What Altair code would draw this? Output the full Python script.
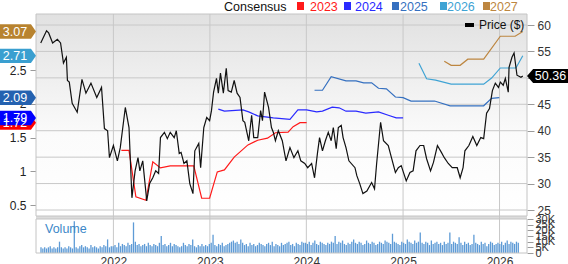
import altair as alt
import pandas as pd

# ---------------- data ----------------
# price line: (decimal year, price in $)
price_year = [2021.247, 2021.308, 2021.329, 2021.369, 2021.420, 2021.451, 2021.481, 2021.512, 2021.522, 2021.542,
              2021.573, 2021.624, 2021.674, 2021.715, 2021.766, 2021.827, 2021.878, 2021.908, 2021.939, 2021.959,
              2022.000, 2022.041, 2022.071, 2022.122, 2022.163, 2022.193, 2022.224, 2022.254, 2022.275, 2022.305,
              2022.336, 2022.346, 2022.376, 2022.407, 2022.437, 2022.468, 2022.488, 2022.529, 2022.560, 2022.590,
              2022.631, 2022.651, 2022.682, 2022.702, 2022.732, 2022.763, 2022.793, 2022.824, 2022.844, 2022.885,
              2022.905, 2022.936, 2022.966, 2022.997, 2023.017, 2023.038, 2023.068, 2023.088, 2023.109, 2023.139,
              2023.170, 2023.190, 2023.221, 2023.251, 2023.282, 2023.312, 2023.343, 2023.363, 2023.404, 2023.434,
              2023.455, 2023.495, 2023.526, 2023.546, 2023.567, 2023.607, 2023.638, 2023.658, 2023.679, 2023.709,
              2023.750, 2023.790, 2023.831, 2023.872, 2023.913, 2023.943, 2023.984, 2024.014, 2024.055, 2024.085,
              2024.116, 2024.136, 2024.167, 2024.197, 2024.228, 2024.258, 2024.279, 2024.309, 2024.330, 2024.360,
              2024.380, 2024.411, 2024.441, 2024.503, 2024.523, 2024.553, 2024.584, 2024.625, 2024.675, 2024.706,
              2024.726, 2024.767, 2024.798, 2024.848, 2024.879, 2024.920, 2024.950, 2024.981, 2025.032, 2025.072,
              2025.103, 2025.133, 2025.174, 2025.215, 2025.245, 2025.286, 2025.316, 2025.357, 2025.398, 2025.428,
              2025.469, 2025.510, 2025.561, 2025.591, 2025.622, 2025.642, 2025.683, 2025.723, 2025.764, 2025.805,
              2025.835, 2025.866, 2025.896, 2025.927, 2025.957, 2025.988, 2026.008, 2026.039, 2026.059, 2026.090,
              2026.100, 2026.130, 2026.151, 2026.181, 2026.222, 2026.242]
price_usd = [56.6, 58.9, 58.5, 56.6, 57.3, 56.6, 52.8, 53.9, 49.5, 49.2,
             45.2, 43.5, 49.7, 47.1, 49.0, 46.3, 48.2, 40.4, 40.0, 34.9,
             37.2, 34.3, 36.8, 44.4, 40.6, 27.3, 32.4, 34.9, 32.4, 34.3,
             28.3, 26.7, 30.0, 31.1, 32.4, 31.9, 38.7, 39.7, 38.5, 39.7,
             38.7, 40.0, 35.7, 35.9, 33.8, 34.3, 30.0, 28.1, 36.2, 37.6,
             33.0, 40.6, 42.5, 41.9, 43.8, 47.3, 49.9, 47.1, 50.9, 47.1,
             51.8, 47.6, 47.3, 49.5, 47.1, 46.3, 41.9, 41.6, 38.1, 42.9,
             38.7, 38.7, 43.8, 41.9, 47.3, 44.4, 40.6, 39.7, 38.1, 40.0,
             38.1, 34.3, 36.8, 34.9, 36.2, 34.3, 33.8, 33.0, 33.8, 31.1,
             35.7, 38.7, 36.2, 38.1, 39.7, 38.1, 40.6, 36.6, 40.6, 41.0,
             38.7, 36.8, 34.3, 33.0, 31.5, 30.0, 28.1, 28.6, 30.2, 29.0,
             33.8, 41.6, 38.1, 37.2, 34.9, 32.1, 33.0, 33.4, 30.5, 32.1,
             32.4, 36.2, 37.2, 37.2, 34.7, 32.4, 34.0, 37.2, 35.9, 34.9,
             33.8, 33.0, 33.0, 31.1, 33.0, 36.2, 37.2, 38.9, 37.2, 38.7,
             38.5, 43.3, 44.2, 47.6, 49.0, 48.2, 49.2, 48.6, 49.9, 47.3,
             52.0, 53.9, 54.7, 50.5, 50.1, 50.36]

# consensus EPS estimates per fiscal year: (decimal year, EPS)
eps2023_year = [2022.081, 2022.163, 2022.234, 2022.336, 2022.407, 2022.488, 2022.590, 2022.834, 2022.916, 2022.997,
                2023.078, 2023.150, 2023.251, 2023.394, 2023.495, 2023.597, 2023.679, 2023.811, 2023.862, 2023.933,
                2024.004]
eps2023 = [1.31, 1.31, 0.62, 0.57, 1.14, 1.05, 1.08, 1.08, 0.60, 0.60,
           0.99, 1.02, 1.21, 1.39, 1.46, 1.49, 1.57, 1.58, 1.66, 1.72, 1.72]
eps2024_year = [2023.088, 2023.150, 2023.343, 2023.404, 2023.495, 2023.658, 2023.831, 2023.913, 2024.004, 2024.106,
                2024.167, 2024.269, 2024.340, 2024.411, 2024.513, 2024.614, 2024.747, 2024.848, 2024.930, 2025.001]
eps2024 = [1.92, 1.89, 1.91, 1.88, 1.82, 1.79, 1.77, 1.91, 1.91, 1.88,
           1.89, 1.95, 1.94, 1.89, 1.89, 1.86, 1.88, 1.83, 1.79, 1.79]
eps2025_year = [2024.085, 2024.167, 2024.258, 2024.411, 2024.513, 2024.594, 2024.675, 2024.747, 2024.828, 2024.920,
                2025.001, 2025.082, 2025.327, 2025.489, 2025.835, 2025.917, 2025.998]
eps2025 = [2.20, 2.20, 2.40, 2.34, 2.34, 2.31, 2.31, 2.23, 2.22, 2.10,
           2.09, 2.04, 2.04, 1.97, 1.97, 2.08, 2.09]
eps2026_year = [2025.164, 2025.245, 2025.337, 2025.500, 2025.835, 2025.917, 2026.008, 2026.171, 2026.242]
eps2026 = [2.60, 2.37, 2.35, 2.29, 2.29, 2.38, 2.53, 2.53, 2.71]
eps2027_year = [2025.428, 2025.500, 2025.591, 2025.672, 2025.835, 2026.008, 2026.161, 2026.242]
eps2027 = [2.63, 2.57, 2.57, 2.66, 2.66, 3.00, 3.00, 3.07]

# weekly volume (thousands), first week 2021-04-02
volume_k = [5, 4, 5, 4, 5, 6, 4, 5, 4, 5, 10, 5, 4, 5, 4, 6, 5, 4, 28, 5,
            4, 6, 7, 5, 6, 5, 4, 7, 5, 6, 5, 4, 6, 5, 7, 6, 12, 5, 6,
            6, 7, 5, 9, 6, 8, 7, 6, 9, 7, 8, 27, 10, 7, 8, 6, 7, 8, 6, 9,
            7, 6, 8, 7, 6, 9, 15, 7, 8, 6, 7, 9, 6, 8, 7, 6, 5, 6, 9, 7,
            6, 8, 7, 12, 6, 5, 7, 6, 8, 6, 7, 6,
            8, 9, 16, 7, 6, 8, 7, 9, 6, 7, 8, 9, 10, 11, 9, 10, 8, 12, 9, 7,
            8, 6, 9, 7, 8, 6, 7, 9, 8, 7, 6, 8, 9, 7, 10, 6, 8, 7, 6, 9,
            7, 8, 9, 10, 7, 8, 6, 9, 8, 7, 10, 9,
            9, 8, 10, 7, 9, 11, 8, 7, 10, 9, 8, 7, 9, 8, 10, 9, 15, 8, 10, 9,
            11, 8, 7, 9, 8, 10, 12, 9, 8, 10, 9, 7, 8, 11, 9, 8, 10, 9, 7, 8,
            10, 9, 8, 11, 10, 9, 8, 17, 10, 9, 8, 7,
            10, 9, 8, 12, 10, 9, 8, 11, 9, 10, 18, 9, 8, 10, 9, 7, 11, 8, 9, 10,
            8, 9, 7, 10, 8, 9, 18, 8, 10, 9, 8, 14, 9, 7, 10, 8, 9, 7, 8, 16,
            9, 8, 7, 10, 8, 9, 6, 8, 10, 9, 7, 8,
            9, 8, 10, 7, 9, 11, 8, 10, 9, 8, 10, 9]

series_names = ["2023", "2024", "2025", "2026", "2027"]
series_colors = ["#ff1a1a", "#2a2aff", "#3570c0", "#3fa3d4", "#bd8640"]
badge_labels = ["1.72", "1.79", "2.09", "2.71", "3.07"]
badge_values = [1.72, 1.79, 2.09, 2.71, 3.07]
badge_colors = ["#ff0000", "#0000ff", "#2462b0", "#3a9fd0", "#b8832f"]
last_price = 50.36
eps_ticks = [0.5, 1, 1.5, 2, 2.5]
price_ticks = [25, 30, 35, 40, 45, 50, 55, 60]
volume_ticks = [0, 5, 10, 15, 20, 25, 30]
year_labels = [2022, 2023, 2024, 2025, 2026]

FONT = "Liberation Sans"
W, H = 491, 239
MAIN_H = 202
VOL_TOP = 205


def to_date(t):
    y = int(t)
    start = pd.Timestamp(year=y, month=1, day=1)
    ndays = (pd.Timestamp(year=y + 1, month=1, day=1) - start).days
    return start + pd.Timedelta(days=round((t - y) * ndays))


price_df = pd.DataFrame({"date": [to_date(t) for t in price_year], "price": price_usd})
eps_rows = []
for name, ys, vs in zip(series_names,
                        [eps2023_year, eps2024_year, eps2025_year, eps2026_year, eps2027_year],
                        [eps2023, eps2024, eps2025, eps2026, eps2027]):
    for t, v in zip(ys, vs):
        eps_rows.append({"date": to_date(t), "eps": v, "series": name})
eps_df = pd.DataFrame(eps_rows)
vol_df = pd.DataFrame({"date": pd.date_range("2021-04-02", periods=len(volume_k), freq="7D"),
                       "vol": volume_k})
year_df = pd.DataFrame({"date": [pd.Timestamp(year=y, month=1, day=1) for y in year_labels]})
price_tick_df = pd.DataFrame({"v": price_ticks})
badge_df = pd.DataFrame({"v": badge_values, "lab": badge_labels, "c": badge_colors})
last_df = pd.DataFrame({"v": [last_price], "lab": [f"{last_price:.2f}"]})
one = pd.DataFrame({"a": [0]})

x_scale = alt.Scale(domain=[alt.DateTime(year=2021, month=4, date=2),
                            alt.DateTime(year=2026, month=3, date=27)])
price_scale = alt.Scale(domain=[25, 60], range=[196, 11], zero=False, nice=False)
eps_scale = alt.Scale(domain=[0.5, 2.5], range=[191, 56], zero=False, nice=False)
vol_scale = alt.Scale(domain=[0, 30], range=[H, VOL_TOP], nice=False)

# background of the main panel
bg = alt.Chart(one).mark_rect(
    fill=alt.Gradient(gradient="linear",
                      stops=[alt.GradientStop(color="#e1e1e1", offset=0),
                             alt.GradientStop(color="#fbfbfb", offset=0.6),
                             alt.GradientStop(color="#ffffff", offset=1)],
                      x1=0, x2=0, y1=0, y2=1)
).encode(x=alt.value(0), x2=alt.value(W), y=alt.value(0), y2=alt.value(MAIN_H))

sep = alt.Chart(one).mark_rect(color="#dcdcdc").encode(
    x=alt.value(0), x2=alt.value(W), y=alt.value(MAIN_H), y2=alt.value(VOL_TOP))

hgrid = alt.Chart(price_tick_df).mark_rule(color="#c8c8c8", strokeWidth=1).encode(
    y=alt.Y("v:Q", scale=price_scale,
            axis=alt.Axis(orient="right", values=price_ticks, title=None, grid=False, domain=False,
                          tickSize=7, tickColor="#9a9a9a", labelPadding=3, labelFontSize=12,
                          labelFont=FONT, labelColor="#333333", labelBaseline="middle")),
    x=alt.value(0), x2=alt.value(W))

vgrid = alt.Chart(year_df).mark_rule(color="#c8c8c8", strokeWidth=1).encode(
    x=alt.X("date:T", scale=x_scale,
            axis=alt.Axis(values=[alt.DateTime(year=y, month=1, date=1) for y in year_labels],
                          format="%Y", title=None, grid=False, domain=False, ticks=False,
                          labelPadding=3, labelFontSize=12, labelFont=FONT, labelColor="#333333")),
    y=alt.value(0), y2=alt.value(H))

vol = alt.Chart(vol_df).mark_bar(width=1.3, color="#5e9bd6").encode(
    x=alt.X("date:T", scale=x_scale, axis=None),
    y=alt.Y("vol:Q", scale=vol_scale,
            axis=alt.Axis(orient="right", values=volume_ticks, title=None, grid=False, domain=False,
                          tickSize=6, tickColor="#9a9a9a", labelPadding=2, labelFontSize=11,
                          labelFont=FONT, labelColor="#333333", labelOverlap=False,
                          labelBaseline="middle",
                          labelExpr="datum.value == 0 ? '0' : datum.value + 'K'")))

vol_label = alt.Chart(one).mark_text(text="Volume", color="#3b87c8", fontSize=12.5, font=FONT,
                                     align="left", baseline="alphabetic").encode(
    x=alt.value(9), y=alt.value(219))

eps_lines = alt.Chart(eps_df).mark_line(strokeWidth=1.2).encode(
    x=alt.X("date:T", scale=x_scale, axis=None),
    y=alt.Y("eps:Q", scale=eps_scale,
            axis=alt.Axis(orient="left", values=eps_ticks, title=None, grid=False, domain=False,
                          format="~g", tickSize=6, tickColor="#9a9a9a", labelPadding=4,
                          labelFontSize=12, labelFont=FONT, labelColor="#222222",
                          labelBaseline="middle")),
    color=alt.Color("series:N", scale=alt.Scale(domain=series_names, range=series_colors), legend=None),
    detail="series:N")

price_line = alt.Chart(price_df).mark_line(color="#111111", strokeWidth=1.2).encode(
    x=alt.X("date:T", scale=x_scale, axis=None),
    y=alt.Y("price:Q", scale=price_scale, axis=None))

# borders
border = alt.Chart(one).mark_rect(fill="transparent", stroke="#c4c4c4", strokeWidth=1).encode(
    x=alt.value(0), x2=alt.value(W), y=alt.value(0), y2=alt.value(MAIN_H))
vol_border = alt.Chart(one).mark_rect(fill="transparent", stroke="#c4c4c4", strokeWidth=1).encode(
    x=alt.value(0), x2=alt.value(W), y=alt.value(VOL_TOP), y2=alt.value(H))

# left badges (consensus current values)
badge_shape = "M-1,-0.4 L0.72,-0.4 L1,0 L0.72,0.4 L-1,0.4 Z"
badges = alt.Chart(badge_df).mark_point(shape=badge_shape, filled=True, size=1296, opacity=1,
                                         strokeWidth=0).encode(
    x=alt.value(-18),
    y=alt.Y("v:Q", scale=eps_scale, axis=None),
    color=alt.Color("c:N", scale=None),
    order=alt.Order("v:Q", sort="ascending"))
badge_text = alt.Chart(badge_df).mark_text(color="white", fontSize=12.5, font=FONT, align="center",
                                           baseline="middle").encode(
    x=alt.value(-21),
    y=alt.Y("v:Q", scale=eps_scale, axis=None),
    text="lab:N")

# right price badge
last_shape = "M-1,0 L-0.7,-0.34 L1,-0.34 L1,0.34 L-0.7,0.34 Z"
last_badge = alt.Chart(last_df).mark_point(shape=last_shape, filled=True, size=1681, opacity=1,
                                            color="#000000", strokeWidth=0).encode(
    x=alt.value(511.5), y=alt.Y("v:Q", scale=price_scale, axis=None))
last_text = alt.Chart(last_df).mark_text(color="white", fontSize=12.5, font=FONT, align="center",
                                         baseline="middle").encode(
    x=alt.value(514.5), y=alt.Y("v:Q", scale=price_scale, axis=None), text="lab:N")

# top legend
legend_layers = [
    alt.Chart(one).mark_text(text="Consensus", color="#111111", fontSize=12.5, font=FONT,
                             align="left", baseline="alphabetic").encode(x=alt.value(188), y=alt.value(-3))
]
sq_x = [261, 308, 356, 404, 447]
tx_x = [274, 319, 364, 411, 454]
for name, col, sx, tx in zip(series_names, series_colors, sq_x, tx_x):
    legend_layers.append(alt.Chart(one).mark_rect(color=col).encode(
        x=alt.value(sx), x2=alt.value(sx + 7), y=alt.value(-12), y2=alt.value(-4)))
    legend_layers.append(alt.Chart(one).mark_text(text=name, color=col, fontSize=12.5, font=FONT,
                                                  align="left", baseline="alphabetic").encode(
        x=alt.value(tx), y=alt.value(-3)))
legend_layers.append(alt.Chart(one).mark_rect(color="#000000").encode(
    x=alt.value(429), x2=alt.value(438), y=alt.value(9), y2=alt.value(13)))
legend_layers.append(alt.Chart(one).mark_text(text="Price ($)", color="#111111", fontSize=12, font=FONT,
                                              align="left", baseline="middle").encode(
    x=alt.value(443), y=alt.value(11)))

chart = alt.layer(
    bg, sep, hgrid, vgrid, vol, vol_label, eps_lines, price_line, border, vol_border,
    badges, badge_text, last_badge, last_text, *legend_layers
).resolve_scale(y="independent").resolve_axis(x="independent", y="independent").properties(
    width=W, height=H, autosize="none",
    padding={"left": 36, "top": 14, "right": 41, "bottom": 11}
).configure_view(strokeWidth=0)

chart.save("out.html", embed_options={"renderer": "svg", "actions": False})
